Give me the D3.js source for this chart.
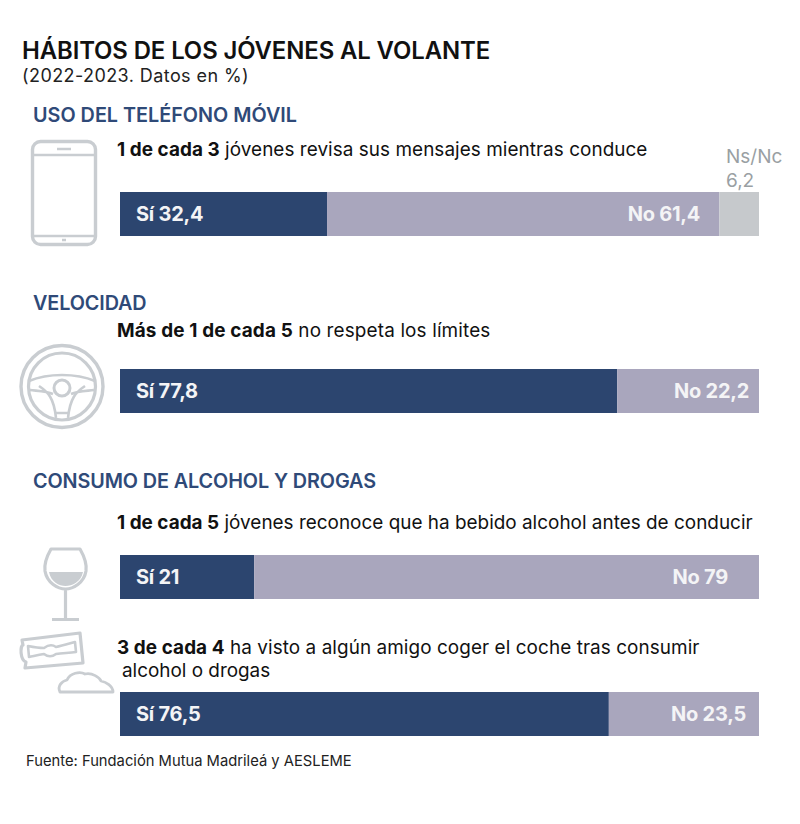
<!DOCTYPE html>
<html><head><meta charset="utf-8">
<script src="https://cdnjs.cloudflare.com/ajax/libs/d3/7.8.5/d3.min.js"></script>
<style>html,body{margin:0;padding:0;background:#fff}svg{display:block}text{font-family:Inter,"Noto Sans",sans-serif}</style>
</head><body><svg id="c" width="800" height="824"></svg>
<script>
const barKeys = ["Sí","No","Ns/Nc"];
const phoneValues = [32.4,61.4,6.2];
const speedValues = [77.8,22.2];
const alcoholValues = [21,79];
const friendValues = [76.5,23.5];
const valueLabels = [["32,4","61,4","6,2"],["77,8","22,2"],["21","79"],["76,5","23,5"]];
const colors = {"Sí":"#2c456f","No":"#a9a6bd","Ns/Nc":"#c6c9cc"};
const svg = d3.select("#c");
const x = d3.scaleLinear().domain([0,100]).range([120,759]);
const BAR_H = 44;
const bars = [
 {vals:phoneValues,y:192,lab:valueLabels[0],noEnd:700},
 {vals:speedValues,y:369,lab:valueLabels[1],noEnd:749},
 {vals:alcoholValues,y:555,lab:valueLabels[2],noEnd:728},
 {vals:friendValues,y:692,lab:valueLabels[3],noEnd:746}
];
function T(x0,y,size,weight,fill,parts,ls){
  const t=svg.append("text").attr("x",x0).attr("y",y).attr("font-size",size).attr("font-weight",weight).attr("fill",fill).attr("letter-spacing",ls||0);
  (Array.isArray(parts)?parts:[[parts,weight]]).forEach(p=>t.append("tspan").attr("font-weight",p[1]).text(p[0]));
  return t;
}
bars.forEach(b=>{
  let c=0;
  b.vals.forEach((v,i)=>{
    svg.append("rect").attr("x",x(c)).attr("y",b.y).attr("width",x(c+v)-x(c)).attr("height",BAR_H).attr("fill",colors[barKeys[i]]);
    c+=v;
  });
  T(136,b.y+29,20,650,"#f4f4f6",barKeys[0]+" "+b.lab[0],-0.25);
  T(b.noEnd,b.y+29,20,650,"#f4f4f6",barKeys[1]+" "+b.lab[1],-0.25).attr("text-anchor","end");
});
T(22,59,23.9,600,"#111","HÁBITOS DE LOS JÓVENES AL VOLANTE",-0.1);
T(22,82,18,400,"#222","(2022-2023. Datos en %)",0.42);
const navy="#2f4a78";
T(33,122,19.8,600,navy,"USO DEL TELÉFONO MÓVIL",0);
T(33,310,19.8,600,navy,"VELOCIDAD",-0.1);
T(33,488,19.8,600,navy,"CONSUMO DE ALCOHOL Y DROGAS",-0.1);
const sz=18.9,bk="#111";
T(117,156,sz,400,bk,[["1 de cada 3",700],[" jóvenes revisa sus mensajes mientras conduce",400]],0.06);
T(117,337,sz,400,bk,[["Más de 1 de cada 5",700],[" no respeta los límites",400]],0.15);
T(117,529,sz,400,bk,[["1 de cada 5",700],[" jóvenes reconoce que ha bebido alcohol antes de conducir",400]],0.02);
T(117,654,sz,400,bk,[["3 de cada 4",700],[" ha visto a algún amigo coger el coche tras consumir",400]],0.08);
T(122,677,sz,400,bk,"alcohol o drogas",0);
T(726,163,19,400,"#9a9fa3","Ns/Nc",0);
T(726,187,19,400,"#9a9fa3","6,2",0);
T(26,766,14.75,400,"#222","Fuente: Fundación Mutua Madrileá y AESLEME",0);

// pictograms
const ic="#c9cdd1";
const g=svg.append("g").attr("fill","none").attr("stroke",ic).attr("stroke-width",3.4).attr("stroke-linejoin","round");
// phone
g.append("rect").attr("x",32.5).attr("y",141.5).attr("width",63).attr("height",103).attr("rx",8);
g.append("path").attr("d","M33 155H95M33 236H95").attr("stroke-width",2.6);
g.append("path").attr("d","M57 149H71M62 240H66").attr("stroke-width",2.4);
// wheel
g.append("circle").attr("cx",62).attr("cy",386.5).attr("r",41).attr("stroke-width",3.4);
g.append("circle").attr("cx",62).attr("cy",386.5).attr("r",33.5).attr("stroke-width",3.2);
g.append("circle").attr("cx",62).attr("cy",388).attr("r",8).attr("stroke-width",3);
g.append("path").attr("d","M29 381C48 373 76 373 95 381M30 390C38 391 46 391 53 394M94 390C86 391 78 391 71 394M39 386C48 392 54 398 56 418M85 386C76 392 70 398 68 418M55 413H69").attr("stroke-width",2.6);
// wine glass
g.append("path").attr("d","M51 549H80C84 556 87 564 86 571C84 583 73 589 65.5 589C58 589 47 583 45 571C44 564 47 556 51 549ZM65.5 589V618M52 619.5H79").attr("stroke-width",3.2);
svg.append("path").attr("d","M49 572H83C81 582 72 586 65.5 586C59 586 51 582 49 572Z").attr("fill",ic);
// razor
g.append("path").attr("d","M22 640L80 633L83 663L25 668L26 662C20 660 20 646 23 645Z").attr("stroke-width",3.2);
g.append("path").attr("d","M28 646C33 647 38 648 44 648C48 645 52 644 56 647C62 646 68 644 75 642L76 652C68 653 62 653 56 654C52 657 48 657 44 654C38 655 34 656 29 657Z").attr("stroke-width",2.6);
// cloud
g.append("path").attr("d","M60 692C57 686 62 681 67 680C70 673 80 671 85 674C92 672 100 678 101 681C106 682 113 686 113 692Z").attr("stroke-width",2.8);
</script></body></html>
